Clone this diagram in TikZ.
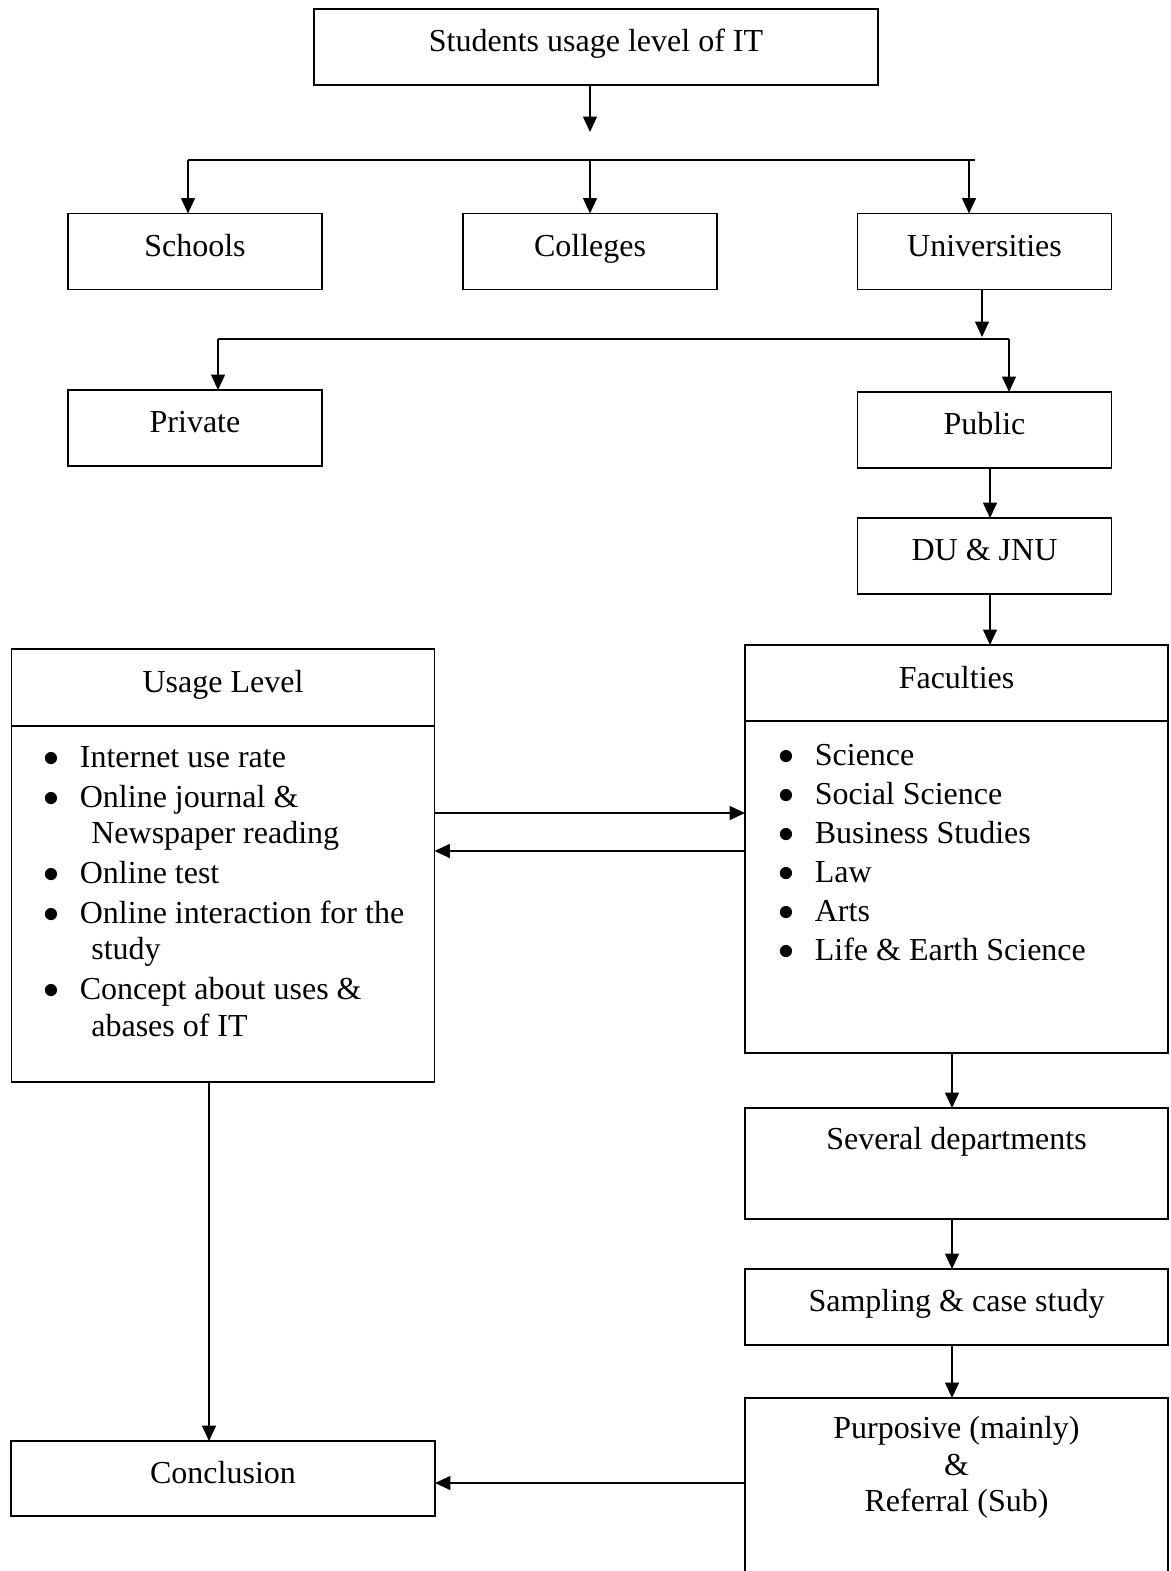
\documentclass[tikz,border=0pt]{standalone}
\usepackage{fontspec}
\setmainfont{Liberation Serif}
\usetikzlibrary{arrows.meta}
\tikzset{box/.style={draw, line width=0.7pt, inner sep=0pt, outer sep=0pt,
    font=\fontsize{12}{13.7}\selectfont, text height=8pt, text depth=4.5pt},
  smallbox/.style={box, minimum width=95.25pt, minimum height=28.5pt},
  widebox/.style={box, minimum width=158.6pt},
  txt/.style={inner sep=0pt, font=\fontsize{12}{13.7}\selectfont},
  arr/.style={->, line width=0.7pt}}
\newcommand{\bul}{\makebox[14pt][l]{\smash{\raisebox{-3pt}{\scalebox{1.6}{\textbullet}}}}}
\newcommand{\cont}{\hspace*{18.3pt}}

\begin{document}
\begin{tikzpicture}[x=0.375pt, y=-0.375pt, >={Triangle[length=5.8pt,width=5.2pt]}]
  \useasboundingbox (0,0) rectangle (1171,1571);
  \clip (0,0) rectangle (1171,1571);

  % top levels
  \node [box, minimum width=211.5pt, minimum height=28.5pt] (top) at (596,47) {Students usage level of IT};
  \node [smallbox] (sch) at (195,251.5) {Schools};
  \node [smallbox] (col) at (590,251.5) {Colleges};
  \node [smallbox] (uni) at (984.5,251.5) {Universities};
  \node [smallbox] (priv) at (195,428) {Private};
  \node [smallbox] (pub) at (984.5,430) {Public};
  \node [smallbox] (du) at (984.5,556) {DU \& JNU};

  % faculties
  \node [widebox, minimum height=153pt] (fac) at (956.5,849) {};
  \coordinate (facdiv) at (0,721);
  \draw [line width=0.7pt] (fac.west |- facdiv) -- (fac.east |- facdiv);
  \node [txt, anchor=base] (fac-t) at (956.5,688) {Faculties};
  \node [txt, anchor=north west, align=left] (fac-l) at (777,744)
    {\bul Science\\[0.9pt] \bul Social Science\\[0.9pt] \bul Business Studies\\[0.9pt]
     \bul Law\\[0.9pt] \bul Arts\\[0.9pt] \bul Life \& Earth Science};

  % usage level
  \node [widebox, minimum height=162.4pt] (use) at (223,865.5) {};
  \coordinate (usediv) at (0,726);
  \draw [line width=0.7pt] (use.west |- usediv) -- (use.east |- usediv);
  \node [txt, anchor=base] (use-t) at (223,692) {Usage Level};
  \node [txt, anchor=north west, align=left] (use-l) at (42,746)
    {\bul Internet use rate\\[1.2pt] \bul Online journal \&\\ \cont Newspaper reading\\[1.2pt]
     \bul Online test\\[1.2pt] \bul Online interaction for the\\ \cont study\\[1.2pt]
     \bul Concept about uses \&\\ \cont abases of IT};

  % lower chain
  \node [widebox, minimum height=41.6pt] (dept) at (956.5,1163.5) {};
  \node [txt, anchor=base] (dept-t) at (956.5,1149) {Several departments};
  \node [widebox, minimum height=28.5pt] (samp) at (956.5,1307) {Sampling \& case study};
  \node [widebox, minimum height=75pt] (purp) at (956.5,1498) {};
  \node [txt, anchor=north, align=center] (purp-t) at (956.5,1416) {Purposive (mainly)\\ \&\\ Referral (Sub)};
  \node [box, minimum width=159pt, minimum height=28.1pt] (conc) at (223,1478.5) {Conclusion};

  % connectors
  \coordinate (s0) at (590,132);
  \coordinate (b1l) at (188,160);
  \coordinate (b1r) at (975,160);
  \coordinate (b1u) at (969,160);
  \draw [arr] (top.south -| s0) -- (s0);
  \draw [line width=0.7pt] (b1l) -- (b1r);
  \draw [arr] (b1l) -- (b1l |- sch.north);
  \draw [arr] (s0 |- b1l) -- (col.north);
  \draw [arr] (b1u) -- (b1u |- uni.north);

  \coordinate (s1) at (982,337);
  \coordinate (b2l) at (218,339);
  \coordinate (b2r) at (1009,339);
  \draw [arr] (uni.south -| s1) -- (s1);
  \draw [line width=0.7pt] (b2l) -- (b2r);
  \draw [arr] (b2l) -- (b2l |- priv.north);
  \draw [arr] (b2r) -- (b2r |- pub.north);

  \coordinate (v1) at (990,0);
  \coordinate (v2) at (952,0);
  \coordinate (v3) at (209,0);
  \draw [arr] (pub.south -| v1) -- (du.north -| v1);
  \draw [arr] (du.south -| v1) -- (fac.north -| v1);
  \draw [arr] (fac.south -| v2) -- (dept.north -| v2);
  \draw [arr] (dept.south -| v2) -- (samp.north -| v2);
  \draw [arr] (samp.south -| v2) -- (purp.north -| v2);
  \draw [arr] (use.south -| v3) -- (conc.north -| v3);

  \coordinate (h1) at (0,813);
  \coordinate (h2) at (0,851);
  \coordinate (h3) at (0,1483);
  \draw [arr] (use.east |- h1) -- (fac.west |- h1);
  \draw [arr] (fac.west |- h2) -- (use.east |- h2);
  \draw [arr] (purp.west |- h3) -- (conc.east |- h3);
\end{tikzpicture}
\end{document}
